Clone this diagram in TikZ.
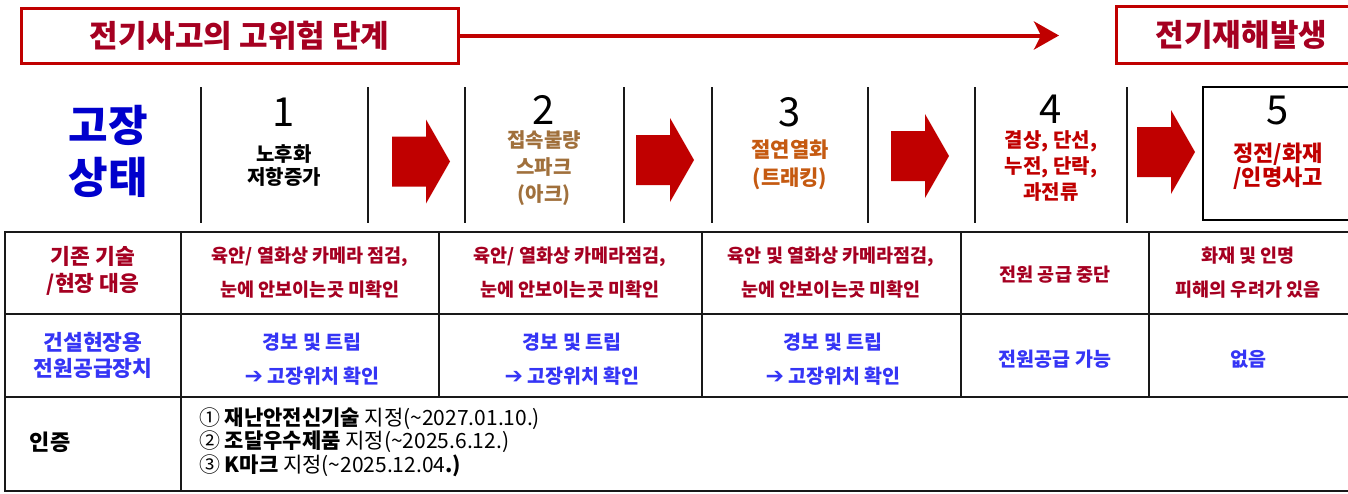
\documentclass[tikz,border=0pt]{standalone}
\usepackage{fontspec}
\setmainfont{Noto Sans CJK KR}
\newfontfamily\dv{DejaVu Sans}
\usetikzlibrary{arrows.meta}
\definecolor{bred}{HTML}{C00000}
\definecolor{dred}{HTML}{A50021}
\definecolor{hblue}{HTML}{0000CC}
\definecolor{rblue}{HTML}{3535F5}
\definecolor{brown}{HTML}{A0703C}
\definecolor{orng}{HTML}{C55A11}
\tikzset{
  banner/.style={draw=bred, line width=3pt, text=dred, inner sep=0pt,
    font=\bfseries\fontsize{31}{36}\selectfont},
  vline/.style={line width=2.5pt, black!90},
  grid/.style={line width=2.5pt, black!90},
  stagenum/.style={inner sep=0pt, font=\fontsize{40}{40}\selectfont},
  stagetxt/.style={inner sep=0pt, align=center},
  cellA/.style={inner sep=0pt, align=center, text=dred,
    font=\bfseries\fontsize{18.5}{34}\selectfont},
  cellB/.style={inner sep=0pt, align=center, text=rblue,
    font=\bfseries\fontsize{19.5}{34}\selectfont},
  blockarrow/.pic={\fill[bred] (-29,-25) -- (5,-25) -- (5,-42) -- (29,0)
    -- (5,42) -- (5,25) -- (-29,25) -- cycle;}
}
\newcommand{\goarrow}{{\dv\fontsize{22}{22}\selectfont ➔}}
\begin{document}
\begin{tikzpicture}[x=1pt,y=-1pt]
\useasboundingbox (0,0) rectangle (1348,493);
% top banner
\node[banner, minimum width=437, minimum height=55] (risk) at (239.5,35.5) {전기사고의 고위험 단계};
\node[banner, minimum width=250, minimum height=57, anchor=west] (disaster) at (1115,35) {전기재해발생};
\coordinate (tip) at (1059,35.5);
\draw[bred, line width=4pt, -{Stealth[length=25pt,width=28pt,inset=7pt]}] (risk.east) -- (tip);
% header row
\node[inner sep=0pt, align=center, text=hblue, font=\bfseries\fontsize{43}{52}\selectfont] (state) at (108,151) {고장\\상태};
\foreach \x in {201,368,465,624,712,868,975,1127} \draw[vline] (\x,87) -- (\x,223);
\draw[line width=2.5pt] (1203,87) rectangle (1360,220);
\node[stagenum] (n1) at (284,112) {1};
\node[stagenum] (n2) at (544,110) {2};
\node[stagenum] (n3) at (790,112) {3};
\node[stagenum] (n4) at (1051,109) {4};
\node[stagenum] (n5) at (1278,110) {5};
\node[stagetxt, font=\bfseries\fontsize{20}{23}\selectfont] (t1) at (284,166) {노후화\\저항증가};
\node[stagetxt, text=brown, font=\bfseries\fontsize{20}{27}\selectfont] (t2) at (544,168) {접속불량\\스파크\\(아크)};
\node[stagetxt, text=orng, font=\bfseries\fontsize{21}{28}\selectfont] (t3) at (790,165) {절연열화\\(트래킹)};
\node[stagetxt, text=bred, font=\bfseries\fontsize{20}{26}\selectfont] (t4) at (1051,166) {결상, 단선,\\누전, 단락,\\과전류};
\node[stagetxt, text=bred, font=\bfseries\fontsize{22}{24}\selectfont] (t5) at (1278,166) {정전/화재\\/인명사고};
\pic at (421,161.5) {blockarrow};
\pic at (665,160) {blockarrow};
\pic at (920,156) {blockarrow};
\pic at (1166,152) {blockarrow};
% table
\draw[grid] (5,232) rectangle (1360,491);
\draw[grid] (5,314) -- (1360,314);
\draw[grid] (5,397) -- (1360,397);
\draw[grid] (181,232) -- (181,491);
\foreach \x in {439,702,961,1149} \draw[grid] (\x,232) -- (\x,397);
\node[cellA, font=\bfseries\fontsize{21.5}{27}\selectfont] (hA) at (93,271) {기존 기술\\/현장 대응};
\node[cellA] (a2) at (310,273) {육안/ 열화상 카메라 점검,\\눈에 안보이는곳 미확인};
\node[cellA] (a3) at (570,273) {육안/ 열화상 카메라점검,\\눈에 안보이는곳 미확인};
\node[cellA] (a4) at (831,273) {육안 및 열화상 카메라점검,\\눈에 안보이는곳 미확인};
\node[cellA] (a5) at (1055,275) {전원 공급 중단};
\node[cellA] (a6) at (1248,273) {화재 및 인명\\피해의 우려가 있음};
\node[cellB, font=\bfseries\fontsize{21.5}{26}\selectfont] (hB) at (93,355) {건설현장용\\전원공급장치};
\node[cellB] (b2) at (312,359) {경보 및 트립\\\goarrow{} 고장위치 확인};
\node[cellB] (b3) at (572,359) {경보 및 트립\\\goarrow{} 고장위치 확인};
\node[cellB] (b4) at (833,359) {경보 및 트립\\\goarrow{} 고장위치 확인};
\node[cellB] (b5) at (1055,359) {전원공급 가능};
\node[cellB] (b6) at (1248,359) {없음};
\node[inner sep=0pt, font=\bfseries\fontsize{22}{24}\selectfont] (hC) at (50,442) {인증};
\node[inner sep=0pt, anchor=west, align=left, font=\fontsize{21}{23.5}\selectfont] (cert) at (199,442)
  {① \textbf{재난안전신기술} 지정(\textasciitilde 2027.01.10.)\\
   ② \textbf{조달우수제품} 지정(\textasciitilde 2025.6.12.)\\
   ③ \textbf{K마크} 지정(\textasciitilde 2025.12.04\textbf{.)}};
\end{tikzpicture}
\end{document}
